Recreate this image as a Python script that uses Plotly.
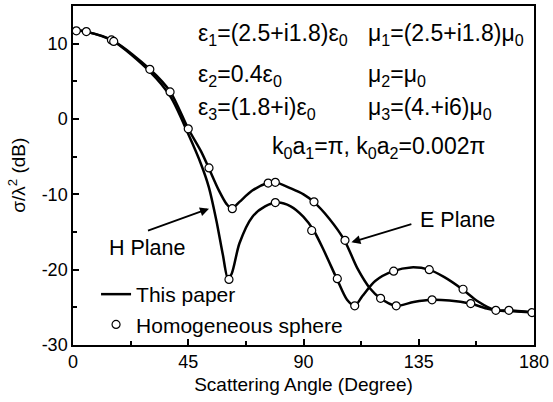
import plotly.graph_objects as go

# ---- data ----
h_angle = [0, 5, 15, 30, 38, 45, 50, 53, 56, 58.5, 60.5, 62, 65, 70, 75, 80, 85, 90, 94, 98, 103, 107, 110, 113, 118, 125, 132, 139, 145, 152, 158, 165, 170, 180]
h_value = [11.8, 11.6, 10.5, 6.3, 3.0, -2.0, -6.0, -9.0, -13.5, -18.0, -21.2, -20.5, -16.5, -13.0, -11.6, -11.1, -11.6, -13.0, -14.8, -17.5, -21.2, -24.0, -24.8, -23.5, -21.5, -20.2, -19.7, -20.0, -21.0, -22.6, -24.2, -25.4, -25.4, -25.7]

e_angle = [0, 5, 16, 30, 38, 45, 50, 53, 57, 60, 62, 65, 70, 76, 79, 85, 90, 94, 100, 106, 111, 116, 120, 126, 133, 140, 147, 155, 162, 165, 170, 180]
e_value = [11.8, 11.6, 10.3, 6.6, 3.6, -1.3, -4.3, -6.5, -9.5, -11.3, -11.9, -11.0, -9.5, -8.5, -8.4, -9.2, -10.0, -11.0, -13.2, -16.1, -19.8, -22.5, -23.8, -24.8, -24.3, -24.0, -24.1, -24.5, -25.2, -25.4, -25.5, -25.7]

hs_h_angle = [15.0, 60.9, 79.0, 93.2, 103.2, 110.0, 125.2, 139.1, 152.3, 165.1, 179.2]
hs_h_value = [10.5, -21.3, -11.1, -14.8, -21.2, -24.8, -20.2, -20.0, -22.6, -25.4, -25.7]

hs_e_angle = [1.3, 5.2, 15.9, 30.0, 37.9, 45.0, 53.1, 62.2, 76.2, 79.0, 94.1, 106.2, 120.1, 126.2, 140.2, 155.3, 170.2]
hs_e_value = [11.7, 11.6, 10.3, 6.6, 3.6, -1.3, -6.5, -11.9, -8.5, -8.4, -11.0, -16.1, -23.8, -24.8, -24.0, -24.5, -25.4]

x_ticks = [0, 45, 90, 135, 180]
y_ticks = [-30, -20, -10, 0, 10]

FONT = "Arial, Liberation Sans, sans-serif"

fig = go.Figure()
line_style = dict(color="black", width=2.5, shape="spline", smoothing=0.8)
fig.add_trace(go.Scatter(x=h_angle, y=h_value, mode="lines", line=line_style,
                         name="This paper", legendgroup="paper", showlegend=True))
fig.add_trace(go.Scatter(x=e_angle, y=e_value, mode="lines", line=line_style,
                         name="This paper", legendgroup="paper", showlegend=False))
marker_style = dict(symbol="circle", size=8, color="white", line=dict(color="black", width=1.2))
fig.add_trace(go.Scatter(x=hs_h_angle, y=hs_h_value, mode="markers", marker=marker_style,
                         name="Homogeneous sphere", legendgroup="hs", showlegend=True))
fig.add_trace(go.Scatter(x=hs_e_angle, y=hs_e_value, mode="markers", marker=marker_style,
                         name="Homogeneous sphere", legendgroup="hs", showlegend=False))

ann_font = dict(family=FONT, size=23, color="black")
texts = [
    (48.1, 11.26, "ε<sub>1</sub>=(2.5+i1.8)ε<sub>0</sub>"),
    (114.4, 11.26, "μ<sub>1</sub>=(2.5+i1.8)μ<sub>0</sub>"),
    (48.1, 5.74, "ε<sub>2</sub>=0.4ε<sub>0</sub>"),
    (114.4, 5.74, "μ<sub>2</sub>=μ<sub>0</sub>"),
    (48.1, 1.37, "ε<sub>3</sub>=(1.8+i)ε<sub>0</sub>"),
    (114.4, 1.37, "μ<sub>3</sub>=(4.+i6)μ<sub>0</sub>"),
    (76.8, -3.77, "k<sub>0</sub>a<sub>1</sub>=π, k<sub>0</sub>a<sub>2</sub>=0.002π"),
]
for x, y, t in texts:
    fig.add_annotation(x=x, y=y, text=t, showarrow=False, xanchor="left", yanchor="middle",
                       font=ann_font)

lbl_font = dict(family=FONT, size=21.5, color="black")
fig.add_annotation(x=29.2, y=-17.07, text="H Plane", showarrow=False, font=lbl_font)
fig.add_annotation(x=150.1, y=-13.4, text="E Plane", showarrow=False, font=lbl_font)
# arrows
fig.add_annotation(x=53.1, y=-11.9, ax=28.7, ay=-14.9, axref="x", ayref="y", text="",
                   showarrow=True, arrowhead=2, arrowsize=1, arrowwidth=1.8, arrowcolor="black")
fig.add_annotation(x=108.7, y=-16.37, ax=132.7, ay=-13.9, axref="x", ayref="y", text="",
                   showarrow=True, arrowhead=2, arrowsize=1, arrowwidth=1.8, arrowcolor="black")

# y-axis title
fig.add_annotation(xref="paper", yref="paper", x=-0.123, y=0.5, text="σ/λ<sup>2</sup> (dB)",
                   textangle=-90, showarrow=False, xanchor="center", yanchor="middle",
                   font=dict(family=FONT, size=19, color="black"))

axis_common = dict(showline=True, linecolor="black", linewidth=1.5, mirror=True,
                   ticks="inside", ticklen=6, tickwidth=1.5, tickcolor="black",
                   showgrid=False, zeroline=False,
                   tickfont=dict(family=FONT, size=18, color="black"))
fig.update_xaxes(range=[0, 180], tickvals=x_ticks, ticktext=[str(v) for v in x_ticks],
                 minor=dict(tickvals=[22.5, 67.5, 112.5, 157.5], ticks="inside", ticklen=4,
                            tickwidth=1.5, tickcolor="black"),
                 title=dict(text="Scattering Angle (Degree)", font=dict(family=FONT, size=19, color="black"),
                            standoff=6),
                 **axis_common)
fig.update_yaxes(range=[-30, 15], tickvals=y_ticks, ticktext=[str(v) for v in y_ticks],
                 minor=dict(tickvals=[-25, -15, -5, 5], ticks="inside", ticklen=4,
                            tickwidth=1.5, tickcolor="black"),
                 **axis_common)

fig.update_layout(
    width=553, height=402,
    margin=dict(l=73, r=16, t=4, b=57),
    plot_bgcolor="white", paper_bgcolor="white",
    font=dict(family=FONT, color="black"),
    legend=dict(x=0.05, y=0.0, xanchor="left", yanchor="bottom",
                bgcolor="rgba(0,0,0,0)", font=dict(family=FONT, size=21, color="black"),
                tracegroupgap=0, itemwidth=30),
)

fig.write_html("out.html")
